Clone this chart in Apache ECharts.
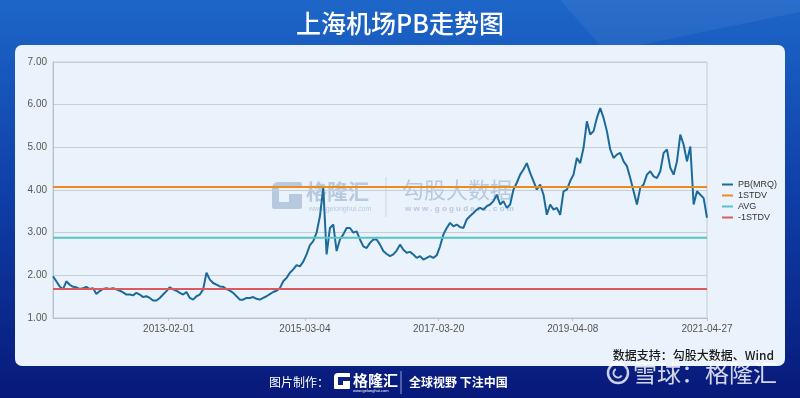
<!DOCTYPE html>
<html>
<head>
<meta charset="utf-8">
<title>上海机场PB走势图</title>
<script src="https://cdn.jsdelivr.net/npm/echarts@6.0.0/dist/echarts.min.js"></script>
<style>
  html, body { margin: 0; padding: 0; }
  #chart { width: 800px; height: 398px; }
</style>
</head>
<body>
<div id="chart"></div>
<script>
// 区间起止日期（数据按等间隔取样）
const startDate = '2011-04-27';
const endDate = '2021-04-27';

// PB(MRQ) 取样值
const pbValues = [
  1.98, 1.86, 1.74, 1.67, 1.86, 1.78, 1.73, 1.72, 1.68, 1.70,
  1.73, 1.68, 1.70, 1.56, 1.63, 1.68, 1.70, 1.68, 1.70, 1.67,
  1.64, 1.60, 1.55, 1.55, 1.53, 1.59, 1.55, 1.49, 1.51, 1.47,
  1.41, 1.41, 1.47, 1.55, 1.63, 1.72, 1.67, 1.64, 1.59, 1.55,
  1.61, 1.47, 1.43, 1.51, 1.55, 1.67, 2.06, 1.90, 1.82, 1.78,
  1.74, 1.73, 1.68, 1.64, 1.59, 1.51, 1.43, 1.43, 1.47, 1.47,
  1.49, 1.45, 1.43, 1.47, 1.51, 1.56, 1.61, 1.64, 1.70, 1.86,
  1.94, 2.06, 2.14, 2.24, 2.21, 2.32, 2.49, 2.71, 2.80, 3.00,
  3.39, 4.05, 2.49, 3.11, 3.19, 2.57, 2.84, 2.96, 3.11, 3.11,
  3.00, 3.03, 2.84, 2.68, 2.64, 2.76, 2.84, 2.84, 2.72, 2.57,
  2.50, 2.45, 2.49, 2.58, 2.72, 2.60, 2.53, 2.55, 2.49, 2.41,
  2.45, 2.37, 2.41, 2.45, 2.41, 2.47, 2.68, 2.96, 3.11, 3.23,
  3.15, 3.19, 3.13, 3.11, 3.31, 3.39, 3.46, 3.54, 3.58, 3.54,
  3.62, 3.66, 3.74, 3.89, 3.66,
  3.74, 3.58, 3.66, 4.01, 4.17, 4.36, 4.48, 4.63, 4.40, 4.21,
  4.01, 4.13, 3.89, 3.42, 3.66, 3.54, 3.58, 3.42, 3.97, 4.01,
  4.21, 4.36, 4.75, 4.63, 4.99, 5.61, 5.30, 5.38, 5.69, 5.92,
  5.69, 5.38, 4.95, 4.75, 4.83, 4.87, 4.67, 4.56, 4.28, 3.97,
  3.66, 4.05, 4.13, 4.36, 4.44, 4.32, 4.28, 4.44, 4.87, 4.95,
  4.52, 4.36, 4.67, 5.30, 5.06, 4.67, 5.02, 3.66, 3.97, 3.89,
  3.81, 3.35
];

// 均值与正负一倍标准差
const stdvPlus = 4.07;
const avgValue = 2.88;
const stdvMinus = 1.68;

// 横轴刻度标签
const xTickLabels = ['2013-02-01', '2015-03-04', '2017-03-20', '2019-04-08', '2021-04-27'];

const toTime = (s) => new Date(s + 'T00:00:00').getTime();
const t0 = toTime(startDate);
const t1 = toTime(endDate);
const step = (t1 - t0) / (pbValues.length - 1);
const pbData = pbValues.map((v, i) => [t0 + i * step, v]);
const flat = (v) => [[t0, v], [t1, v]];
const xTicks = xTickLabels.map(toTime);

const pad = (n) => (n < 10 ? '0' : '') + n;
const fmtDate = (t) => {
  const d = new Date(t);
  return d.getFullYear() + '-' + pad(d.getMonth() + 1) + '-' + pad(d.getDate());
};

const cjk = '"Noto Sans CJK SC", "Microsoft YaHei", sans-serif';
const latin = '"Liberation Sans", Arial, sans-serif';
const panelColor = '#eaf3fb';
const markColor = '#b7c9de';

const chart = echarts.init(document.getElementById('chart'));

const option = {
  backgroundColor: new echarts.graphic.LinearGradient(0, 0, 0, 1, [
    {offset: 0, color: '#1d66c8'},
    {offset: 0.5, color: '#0f3ea6'},
    {offset: 1, color: '#08197a'}
  ]),
  animation: false,
  textStyle: {fontFamily: cjk},
  title: {
    text: '上海机场PB走势图',
    left: 'center',
    top: 6,
    textStyle: {color: '#fff', fontSize: 25, fontWeight: 500, fontFamily: cjk}
  },
  legend: {
    orient: 'vertical',
    left: 717,
    top: 174,
    itemWidth: 11,
    itemHeight: 2,
    itemGap: 0,
    icon: 'rect',
    textStyle: {fontSize: 9, color: '#333', lineHeight: 11, fontFamily: latin},
    data: ['PB(MRQ)', '1STDV', 'AVG', '-1STDV']
  },
  grid: {
    left: 53,
    right: 93,
    top: 62,
    bottom: 80,
    show: true,
    borderColor: '#c3cad3',
    borderWidth: 1
  },
  xAxis: {
    type: 'value',
    min: t0,
    max: t1,
    axisLine: {lineStyle: {color: '#b8c0c9'}},
    axisTick: {show: true, length: 3, customValues: xTicks, lineStyle: {color: '#b8c0c9'}},
    axisLabel: {
      customValues: xTicks,
      formatter: (v) => fmtDate(v),
      color: '#555',
      fontSize: 10,
      margin: 6,
      fontFamily: latin
    },
    splitLine: {show: false}
  },
  yAxis: {
    type: 'value',
    min: 1,
    max: 7,
    interval: 1,
    axisLine: {show: true, lineStyle: {color: '#b8c0c9'}},
    axisTick: {show: false},
    axisLabel: {
      formatter: (v) => v.toFixed(2),
      color: '#555',
      fontSize: 10,
      margin: 6,
      fontFamily: latin
    },
    splitLine: {lineStyle: {color: '#c8ced5'}}
  },
  series: [
    {
      name: 'PB(MRQ)',
      type: 'line',
      data: pbData,
      showSymbol: false,
      lineStyle: {color: '#1c6a9b', width: 2},
      itemStyle: {color: '#1c6a9b'}
    },
    {
      name: '1STDV',
      type: 'line',
      data: flat(stdvPlus),
      showSymbol: false,
      lineStyle: {color: '#ee8a22', width: 2},
      itemStyle: {color: '#ee8a22'}
    },
    {
      name: 'AVG',
      type: 'line',
      data: flat(avgValue),
      showSymbol: false,
      lineStyle: {color: '#58c3c7', width: 2},
      itemStyle: {color: '#58c3c7'}
    },
    {
      name: '-1STDV',
      type: 'line',
      data: flat(stdvMinus),
      showSymbol: false,
      lineStyle: {color: '#dc5a5f', width: 2},
      itemStyle: {color: '#dc5a5f'}
    }
  ],
  graphic: [
    // 顶部浅色斜光
    {type: 'polygon', z: -20, shape: {points: [[560, 0], [800, 0], [800, 12], [640, 45], [600, 45]]}, style: {fill: 'rgba(255,255,255,0.06)'}},
    // 面板
    {type: 'rect', z: -10, shape: {x: 15, y: 45, width: 770, height: 321, r: 7}, style: {fill: panelColor}},
    // 图中水印
    {type: 'rect', z: -5, shape: {x: 272, y: 182, width: 30, height: 27, r: [6, 2, 2, 2]}, style: {fill: markColor}},
    {type: 'rect', z: -4, shape: {x: 279, y: 188, width: 23, height: 6}, style: {fill: panelColor}},
    {type: 'rect', z: -4, shape: {x: 279, y: 194, width: 10, height: 8}, style: {fill: panelColor}},
    {type: 'text', z: -5, x: 306, y: 181, style: {text: '格隆汇', fill: markColor, font: 'bold 21px ' + cjk}},
    {type: 'text', z: -5, x: 309, y: 206, style: {text: 'www.gelonghui.com', fill: markColor, font: '7px ' + latin}},
    {type: 'line', z: -5, shape: {x1: 386, y1: 177, x2: 386, y2: 217}, style: {stroke: '#c8d6e4', lineWidth: 1}},
    {type: 'text', z: -5, x: 402, y: 179, style: {text: '勾股大数据', fill: markColor, font: '22px ' + cjk}},
    {type: 'text', z: -5, x: 405, y: 205, style: {text: 'w w w . g o g u d a t a . c o m', fill: markColor, font: 'bold 8px ' + latin}},
    // 数据来源
    {type: 'text', x: 774, y: 355, style: {text: '数据支持：勾股大数据、Wind', fill: '#1a1a1a', font: '500 12px ' + cjk, align: 'right', verticalAlign: 'middle'}},
    // 底部署名
    {type: 'text', x: 269, y: 382, style: {text: '图片制作：', fill: '#fff', font: '12px ' + cjk, verticalAlign: 'middle'}},
    {type: 'rect', shape: {x: 334, y: 373, width: 16, height: 16, r: [4, 1, 1, 1]}, style: {fill: '#fff'}},
    {type: 'rect', shape: {x: 338, y: 377, width: 12, height: 4}, style: {fill: '#0b2186'}},
    {type: 'rect', shape: {x: 338, y: 381, width: 5, height: 4}, style: {fill: '#0b2186'}},
    {type: 'text', x: 353, y: 380, style: {text: '格隆汇', fill: '#fff', font: 'bold 15px ' + cjk, verticalAlign: 'middle'}},
    {type: 'text', x: 353, y: 391, style: {text: 'www.gelonghui.com', fill: '#fff', font: '4px sans-serif', verticalAlign: 'middle'}},
    {type: 'line', shape: {x1: 401, y1: 371, x2: 401, y2: 394}, style: {stroke: '#8ea3d6', lineWidth: 1}},
    {type: 'text', x: 409, y: 382, style: {text: '全球视野 下注中国', fill: '#fff', font: 'bold 12px ' + cjk, verticalAlign: 'middle'}},
    // 雪球水印
    {type: 'circle', shape: {cx: 618, cy: 373, r: 10}, style: {fill: 'none', stroke: 'rgba(255,255,255,0.8)', lineWidth: 2.5}},
    {type: 'arc', shape: {cx: 618, cy: 373, r: 4.5, startAngle: 0.6, endAngle: 4.2}, style: {fill: 'none', stroke: 'rgba(255,255,255,0.8)', lineWidth: 2}},
    {type: 'text', x: 633, y: 373, style: {text: '雪球：格隆汇', fill: 'rgba(255,255,255,0.82)', font: '24px ' + cjk, verticalAlign: 'middle'}}
  ]
};

chart.setOption(option);
</script>
</body>
</html>
